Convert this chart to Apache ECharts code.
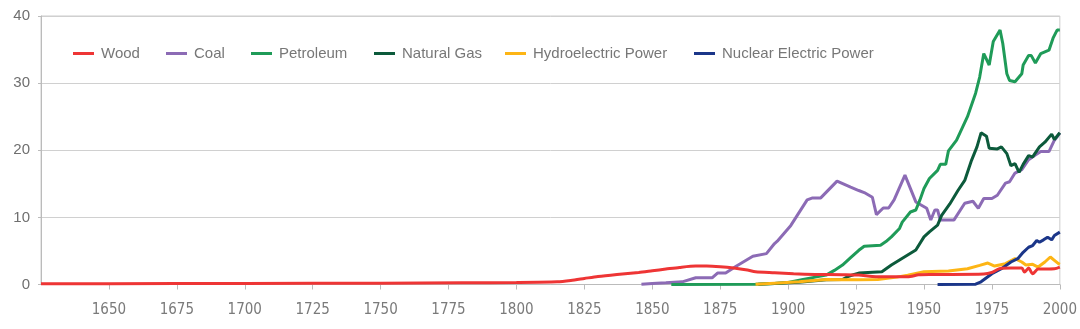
<!DOCTYPE html>
<html>
<head>
<meta charset="utf-8">
<script src="https://cdn.jsdelivr.net/npm/echarts@6/dist/echarts.min.js"></script>
<style>
html,body{margin:0;padding:0;background:#fff;}
#chart{width:1080px;height:329px;}
</style>
</head>
<body>
<div id="chart"></div>
<script>
// ---- data (year, quadrillion Btu) ----
var seriesNames = ["Wood", "Coal", "Petroleum", "Natural Gas", "Hydroelectric Power", "Nuclear Electric Power"];
var xTicks = [1625, 2000, 25];   // min, max, interval
var yTicks = [0, 40, 10];

var wood = [[1625,0.1],[1650,0.12],[1700,0.15],[1750,0.2],[1780,0.25],[1800,0.3],[1815,0.4],[1820,0.6],[1825,0.9],[1830,1.2],[1837,1.5],[1845,1.8],[1850,2.05],[1855,2.3],[1860,2.55],[1866,2.75],[1870,2.75],[1875,2.65],[1880,2.45],[1885,2.15],[1888,1.9],[1895,1.75],[1902,1.6],[1910,1.5],[1920,1.45],[1926,1.4],[1931,1.2],[1938,1.15],[1944,1.15],[1948,1.45],[1952,1.5],[1960,1.5],[1972,1.55],[1975,1.8],[1978,2.4],[1982,2.45],[1986,2.45],[1987,1.85],[1988.5,2.45],[1990,1.6],[1992,2.3],[1998,2.35],[2000,2.6]];

var coal = [[1846,0.05],[1850,0.15],[1855,0.25],[1861,0.4],[1866,1.0],[1872,1.0],[1874,1.7],[1877,1.7],[1881,2.75],[1887,4.2],[1892,4.6],[1895,6.1],[1896,6.45],[1901,8.8],[1907,12.6],[1909,12.9],[1912,12.9],[1918,15.4],[1923,14.5],[1926,14.0],[1928,13.7],[1931,13.0],[1932.5,10.4],[1935,11.4],[1937,11.4],[1939,12.6],[1943,16.3],[1947,12.3],[1951,11.35],[1952.5,9.6],[1954,11.1],[1955,11.1],[1956,9.6],[1961,9.6],[1965,12.1],[1968,12.4],[1970,11.35],[1972,12.8],[1975,12.8],[1977,13.3],[1980,15.1],[1981.5,15.3],[1983.5,16.6],[1986,17.1],[1988.5,18.6],[1991,19.3],[1993,19.8],[1996,19.8],[1998,21.5],[1999,22.0],[2000,22.6]];

var petroleum = [[1857,0],[1888,0.02],[1895,0.15],[1900,0.3],[1905,0.7],[1910,1.1],[1914,1.4],[1917,2.1],[1920,2.9],[1923,4.0],[1926,5.1],[1928,5.7],[1934,5.85],[1936,6.4],[1938,7.1],[1941,8.35],[1942,9.3],[1945,10.8],[1947,11.1],[1948.5,12.6],[1950,14.3],[1952,15.8],[1955,17.0],[1956,17.9],[1958,17.9],[1959,19.9],[1962,21.5],[1966,25.0],[1969,28.5],[1970.5,30.9],[1972,34.4],[1974,32.7],[1975.5,36.2],[1978,37.9],[1979,35.9],[1980.5,31.4],[1981.5,30.4],[1983.5,30.2],[1986,31.4],[1986.5,32.7],[1988.5,34.1],[1989.5,34.1],[1991,33.0],[1993,34.4],[1996,34.9],[1997.5,36.7],[1999,37.9],[2000,37.9]];

var naturalGas = [[1889,0.05],[1895,0.15],[1904,0.35],[1914,0.7],[1920,0.75],[1922,1.2],[1924,1.45],[1926,1.7],[1934.5,1.9],[1938,2.9],[1944,4.4],[1947,5.15],[1950,7.1],[1952,7.85],[1955,8.85],[1956.5,10.3],[1959.5,12.0],[1962.5,14.0],[1965,15.5],[1967.5,18.5],[1969.5,20.5],[1971,22.6],[1973,22.1],[1974,20.3],[1977,20.2],[1978.5,20.5],[1980.5,19.5],[1982,17.7],[1983.5,18.0],[1985,16.7],[1986.5,17.9],[1988.5,19.2],[1990,19.0],[1992.5,20.5],[1994.5,21.2],[1997,22.4],[1998,21.6],[2000,22.6]];

var hydro = [[1888,0.05],[1895,0.2],[1904,0.4],[1914,0.75],[1926,0.7],[1933,0.75],[1940,1.1],[1944,1.4],[1950,1.9],[1959,2.0],[1966,2.35],[1970.5,2.85],[1973.5,3.2],[1976,2.75],[1980,3.1],[1983.5,3.85],[1986,3.35],[1987.5,2.9],[1990,3.0],[1992,2.6],[1994.5,3.35],[1996.5,4.1],[1998,3.6],[1999.5,3.1],[2000,3.0]];

var nuclear = [[1955,0],[1969,0.05],[1971,0.4],[1975,1.6],[1978.5,2.35],[1982,3.35],[1984.5,3.85],[1986.5,4.8],[1988.5,5.55],[1990,5.8],[1991.5,6.55],[1992.5,6.3],[1994,6.65],[1995.5,7.05],[1997,6.65],[1998,7.3],[2000,7.8]];

var seriesData = [wood, coal, petroleum, naturalGas, hydro, nuclear];
var colors = ["#EE3535", "#8C6BB5", "#1F9B58", "#0C5A3B", "#FDB515", "#1B3689"];
var legendLeft = [68, 161, 246, 369, 500, 689];

var chart = echarts.init(document.getElementById('chart'));

var legends = seriesNames.map(function (n, i) {
  return {
    data: [n],
    left: legendLeft[i],
    top: 41,
    icon: 'rect',
    itemWidth: 21,
    itemHeight: 3,
    textStyle: { fontFamily: 'Liberation Sans', fontSize: 15, color: '#777', padding: [0, 0, 0, 2] },
    selectedMode: false
  };
});

var series = seriesNames.map(function (n, i) {
  return {
    name: n,
    type: 'line',
    data: seriesData[i],
    showSymbol: false,
    symbol: 'none',
    smooth: i === 0 ? 0.25 : false,
    z: i === 0 ? 4 : 2,
    color: colors[i],
    lineStyle: { width: 3, color: colors[i] },
    animation: false
  };
});

chart.setOption({
  animation: false,
  color: colors,
  grid: { left: 41, right: 18, top: 16, bottom: 44.5, show: true, borderColor: '#ccc', borderWidth: 1 },
  legend: legends,
  xAxis: {
    type: 'value',
    min: xTicks[0], max: xTicks[1], interval: xTicks[2],
    splitLine: { show: false },
    axisLine: { show: true, lineStyle: { color: '#bbb', width: 1 } },
    axisTick: { show: true, length: 5, lineStyle: { color: '#bbb' } },
    axisLabel: {
      showMinLabel: false,
      margin: 18,
      formatter: function (v) { return String(v); },
      fontFamily: "'DejaVu Sans Condensed', 'Liberation Sans', sans-serif",
      fontSize: 15,
      color: '#7a7a7a'
    }
  },
  yAxis: {
    type: 'value',
    min: yTicks[0], max: yTicks[1], interval: yTicks[2],
    splitLine: { show: true, lineStyle: { color: '#d0d0d0', width: 1 } },
    axisLine: { show: true, lineStyle: { color: '#bbb', width: 1 } },
    axisTick: { show: true, length: 3, lineStyle: { color: '#bbb' } },
    axisLabel: {
      margin: 11,
      fontFamily: 'Liberation Sans',
      fontSize: 15,
      color: '#6f6f6f'
    }
  },
  series: series
});
</script>
</body>
</html>
